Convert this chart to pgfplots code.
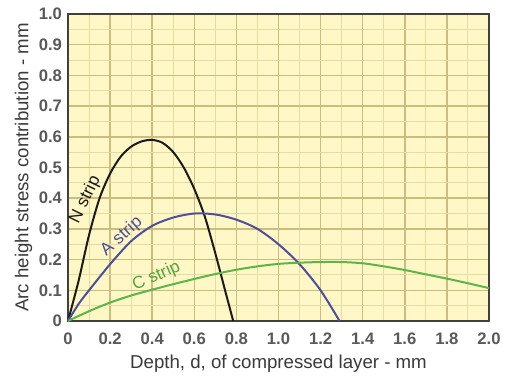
\documentclass[border=0pt]{standalone}
\usepackage{pgfplots}
\pgfplotsset{compat=1.18}
\usepackage{fontspec}
\setmainfont{Liberation Sans}
\definecolor{bgy}{HTML}{FFF8C6}
\definecolor{gridmaj}{HTML}{CBBC80}
\definecolor{gridmin}{HTML}{E6DBA5}
\definecolor{nblk}{HTML}{1A1A1A}
\definecolor{ablue}{HTML}{4E4F98}
\definecolor{cgreen}{HTML}{5CB548}
\definecolor{txt}{HTML}{3A3A3A}
\begin{document}
\begin{tikzpicture}
\begin{axis}[
  scale only axis,
  width=315.75pt, height=230.25pt,
  xmin=0, xmax=2, ymin=0, ymax=1,
  xtick={0,0.2,0.4,0.6,0.8,1.0,1.2,1.4,1.6,1.8,2.0},
  ytick={0,0.1,0.2,0.3,0.4,0.5,0.6,0.7,0.8,0.9,1.0},
  xticklabels={0,0.2,0.4,0.6,0.8,1.0,1.2,1.4,1.6,1.8,2.0},
  yticklabels={0,0.1,0.2,0.3,0.4,0.5,0.6,0.7,0.8,0.9,1.0},
  minor x tick num=1,
  minor y tick num=1,
  grid=both,
  major grid style={gridmaj, line width=1.1pt},
  minor grid style={gridmin, line width=0.75pt},
  axis background/.style={fill=bgy},
  axis line style={line width=1.4pt, black!75},
  tick style={draw=none},
  tick label style={font=\fontsize{12.5}{14}\selectfont\bfseries, text=black!65},
  label style={font=\fontsize{14}{16}\selectfont, text=txt},
  xticklabel style={yshift=-5pt, text height=9pt, text depth=0pt},
  yticklabel style={xshift=-1pt},
  xlabel={Depth, d, of compressed layer - mm},
  ylabel={Arc height stress contribution - mm},
  xlabel style={yshift=-1pt},
  ylabel style={yshift=-2pt},
  clip=true,
]
\addplot[nblk, line width=1.5pt, smooth] coordinates {
(0,0)(0.05,0.13)(0.1,0.28)(0.15,0.40)(0.2,0.48)(0.25,0.535)(0.3,0.568)(0.35,0.585)(0.4,0.59)(0.45,0.58)(0.5,0.55)(0.55,0.5)(0.6,0.43)(0.65,0.34)(0.7,0.22)(0.75,0.09)(0.785,0)};
\addplot[ablue, line width=1.5pt, smooth] coordinates {
(0,0)(0.05,0.055)(0.1,0.1)(0.2,0.185)(0.3,0.26)(0.4,0.31)(0.5,0.337)(0.6,0.35)(0.7,0.347)(0.8,0.33)(0.9,0.3)(1.0,0.25)(1.1,0.185)(1.2,0.1)(1.29,0)};
\addplot[cgreen, line width=1.5pt, smooth] coordinates {
(0,0)(0.1,0.032)(0.2,0.06)(0.3,0.083)(0.4,0.102)(0.5,0.12)(0.6,0.137)(0.7,0.153)(0.8,0.167)(0.9,0.178)(1.0,0.186)(1.1,0.19)(1.2,0.192)(1.3,0.192)(1.4,0.188)(1.5,0.178)(1.6,0.166)(1.7,0.152)(1.8,0.138)(1.9,0.123)(2.0,0.107)};
\node[rotate=64, text=nblk, font=\fontsize{13}{15}\selectfont, inner sep=1pt] at (axis cs:0.082,0.395) {N strip};
\node[rotate=42, text=ablue, font=\fontsize{13}{15}\selectfont, inner sep=1pt] at (axis cs:0.255,0.275) {A strip};
\node[rotate=24, text=cgreen!90!black, font=\fontsize{13}{15}\selectfont, inner sep=1pt] at (axis cs:0.42,0.145) {C strip};
\end{axis}
\pgfresetboundingbox
\path[use as bounding box] ([xshift=-51pt,yshift=-41.25pt]current axis.south west) rectangle ([xshift=13.5pt,yshift=10.5pt]current axis.north east);
\end{tikzpicture}
\end{document}
